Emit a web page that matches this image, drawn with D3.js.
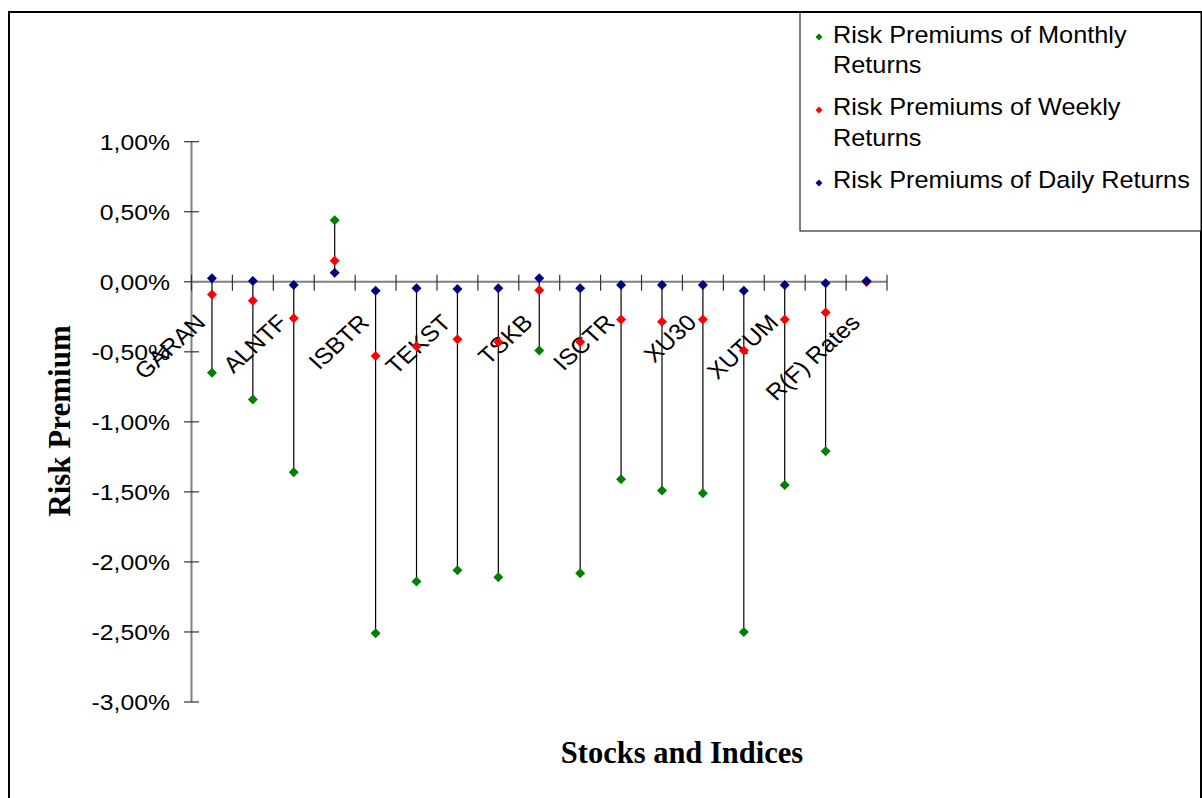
<!DOCTYPE html>
<html>
<head>
<meta charset="utf-8">
<script src="https://cdn.jsdelivr.net/npm/d3@7"></script>
<style>
  html, body { margin: 0; padding: 0; background: #fff; }
  svg { display: block; }
</style>
</head>
<body>
<svg id="chart" width="1202" height="798"></svg>
<script>
// Category labels (Excel shows every other label; unlabeled categories left blank)
const categories = ["GARAN", "", "ALNTF", "", "ISBTR", "", "TEKST", "", "TSKB", "", "ISCTR", "", "XU30", "", "XUTUM", "", "R(F) Rates"];
// Risk premiums in percent
const monthly = [-0.65, -0.84, -1.36, 0.44, -2.51, -2.14, -2.06, -2.11, -0.49, -2.08, -1.41, -1.49, -1.51, -2.50, -1.45, -1.21, 0.00];
const weekly  = [-0.09, -0.135, -0.26, 0.15, -0.53, -0.46, -0.41, -0.43, -0.06, -0.43, -0.27, -0.285, -0.27, -0.49, -0.27, -0.22, 0.00];
const daily   = [0.025, 0.006, -0.023, 0.065, -0.064, -0.047, -0.051, -0.047, 0.025, -0.047, -0.023, -0.023, -0.023, -0.064, -0.023, -0.011, 0.005];
const yTicks = [1, 0.5, 0, -0.5, -1, -1.5, -2, -2.5, -3];
const seriesNames = ["Risk Premiums of Monthly Returns", "Risk Premiums of Weekly Returns", "Risk Premiums of Daily Returns"];
const seriesColors = ["#008000", "#ff0000", "#000080"];

const svg = d3.select("#chart");
const SX = 1.1; // horizontal stretch of the original picture's text

// outer chart border
svg.append("rect").attr("x", 9).attr("y", 12).attr("width", 1192).attr("height", 820)
  .attr("fill", "none").attr("stroke", "#000").attr("stroke-width", 2);

const x = d3.scaleBand().domain(d3.range(categories.length)).range([191.5, 887]);
const y = d3.scaleLinear().domain([-3, 1]).range([702, 141.7]);
const cx = i => x(i) + x.bandwidth() / 2;

const fmt = v => (d3.format(".2f")(v)).replace(".", ",").replace("−", "-") + "%";

// Y axis
const gy = svg.append("g");
gy.append("line").attr("x1", 191.5).attr("x2", 191.5).attr("y1", y(1)).attr("y2", y(-3))
  .attr("stroke", "#808080").attr("stroke-width", 2);
gy.selectAll("line.tick").data(yTicks).join("line").attr("class", "tick")
  .attr("x1", 184).attr("x2", 199).attr("y1", d => y(d)).attr("y2", d => y(d))
  .attr("stroke", "#333").attr("stroke-width", 1.2);
gy.selectAll("text").data(yTicks).join("text")
  .attr("transform", d => `translate(170,${y(d)}) scale(${SX},1)`)
  .attr("text-anchor", "end").attr("dy", "0.36em")
  .attr("font-family", "Liberation Sans, Arial, sans-serif").attr("font-size", 22.5)
  .attr("fill", "#000")
  .text(d => fmt(d));

// X axis
const gx = svg.append("g");
gx.append("line").attr("x1", 191.5).attr("x2", 887).attr("y1", y(0)).attr("y2", y(0))
  .attr("stroke", "#808080").attr("stroke-width", 2);
gx.selectAll("line.tick").data(d3.range(categories.length + 1)).join("line").attr("class", "tick")
  .attr("x1", d => x.range()[0] + d * x.step()).attr("x2", d => x.range()[0] + d * x.step())
  .attr("y1", y(0) - 7).attr("y2", y(0) + 9)
  .attr("stroke", "#333").attr("stroke-width", 1.2);

// High-low lines
const rows = categories.map((c, i) => ({ i, vals: [monthly[i], weekly[i], daily[i]] }));
svg.append("g").selectAll("line").data(rows).join("line")
  .attr("x1", d => cx(d.i)).attr("x2", d => cx(d.i))
  .attr("y1", d => y(d3.max(d.vals))).attr("y2", d => y(d3.min(d.vals)))
  .attr("stroke", "#000").attr("stroke-width", 1.2);

// Category labels (rotated)
svg.append("g").selectAll("text").data(rows.filter(d => categories[d.i] !== "")).join("text")
  .attr("transform", d => `translate(${cx(d.i) - 5},324) scale(${SX},1) rotate(-45)`)
  .attr("text-anchor", "end")
  .attr("font-family", "Liberation Sans, Arial, sans-serif").attr("font-size", 22.5)
  .attr("fill", "#000")
  .text(d => categories[d.i]);

// Markers
const diamond = s => `M0,${-s}L${s},0L0,${s}L${-s},0Z`;
[monthly, weekly, daily].forEach((arr, k) => {
  svg.append("g").selectAll("path").data(arr).join("path")
    .attr("d", diamond(5))
    .attr("transform", (d, i) => `translate(${cx(i)},${y(d)})`)
    .attr("fill", seriesColors[k]);
});

// Axis titles
svg.append("text").attr("x", 682).attr("y", 763).attr("text-anchor", "middle")
  .attr("font-family", "Liberation Serif, Times New Roman, serif").attr("font-weight", "bold")
  .attr("font-size", 30.5).text("Stocks and Indices");
svg.append("text").attr("transform", "translate(70,421) rotate(-90)").attr("text-anchor", "middle")
  .attr("font-family", "Liberation Serif, Times New Roman, serif").attr("font-weight", "bold")
  .attr("font-size", 31).text("Risk Premium");

// Legend
const lg = svg.append("g");
lg.append("rect").attr("x", 800).attr("y", 12).attr("width", 401).attr("height", 219)
  .attr("fill", "#fff").attr("stroke", "#000").attr("stroke-width", 1);
const legendLines = [
  [["Risk Premiums of Monthly", 43], ["Returns", 73]],
  [["Risk Premiums of Weekly", 115], ["Returns", 146]],
  [["Risk Premiums of Daily Returns", 188]]
];
const markerY = [37, 110, 183];
seriesNames.forEach((name, k) => {
  lg.append("path").attr("d", diamond(3.5)).attr("transform", `translate(819,${markerY[k]})`)
    .attr("fill", seriesColors[k]);
  legendLines[k].forEach(([t, by]) => {
    lg.append("text").attr("transform", `translate(833,${by}) scale(${SX},1)`)
      .attr("font-family", "Liberation Sans, Arial, sans-serif").attr("font-size", 23)
      .attr("fill", "#000").text(t);
  });
});
// top border drawn again over legend
svg.append("line").attr("x1", 9).attr("x2", 1201).attr("y1", 12).attr("y2", 12)
  .attr("stroke", "#000").attr("stroke-width", 2);
</script>
</body>
</html>
